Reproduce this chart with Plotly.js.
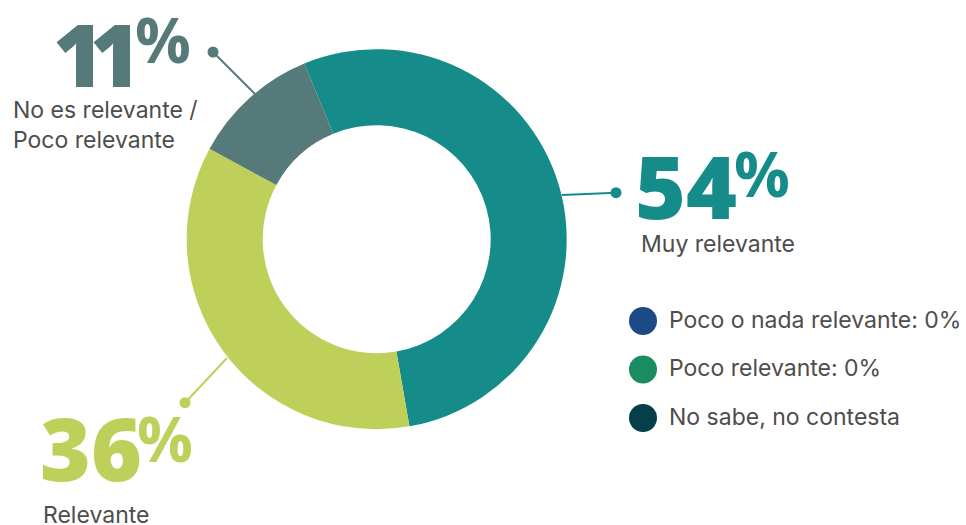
<!DOCTYPE html>
<html>
<head>
<meta charset="utf-8">
<script src="https://cdn.plot.ly/plotly-3.0.1.min.js"></script>
<style>html,body{margin:0;padding:0;background:#fff}#chart{width:966px;height:525px}</style>
</head>
<body>
<div id="chart"></div>
<script>
// ---- data ----
var sliceLabels = ["Muy relevante", "Relevante", "No es relevante / Poco relevante"];
var sliceValues = [54, 36, 11];
var sliceColors = ["#158C8A", "#BED05A", "#56797A"];
var calloutText = ["Muy relevante", "Relevante", "No es relevante /<br>Poco relevante"];

var legendLabels = ["Poco o nada relevante: 0%", "Poco relevante: 0%", "No sabe, no contesta"];
var legendColors = ["#1C4A86", "#1A8C62", "#073E4B"];

// ---- layout helpers (pixel -> paper) ----
var W = 966, H = 525;
function px(x){ return x / W; }
function py(y){ return 1 - y / H; }
var FONT = "Inter, 'Open Sans', sans-serif";
var BIGFONT = "'Open Sans', Inter, sans-serif";
var TXT = "#4D4D4D";

function textAt(text, x, baseline, size, color, weight, fam, desc){
  return {
    text: text, xref: "paper", yref: "paper",
    x: px(x), y: py(baseline + desc * size),
    xanchor: "left", yanchor: "bottom", align: "left",
    showarrow: false, borderpad: 0,
    font: {family: fam, size: size, color: color, weight: weight || 400}
  };
}

// donut geometry
var cx = 376.7, cy = 239.2, R = 190;

// callout placement per slice: [digitsX, digitsBaseline, pctX, pctBaseline, labelX, lastLineBaseline, letterSpacing]
var callPos = [
  [634, 220, 733, 198, 640, 253, 0],
  [39, 482, 136, 463, 42, 524, 0],
  [52, 88, 134, 64, 12, 149, -14]
];
var BIG = 87, PCT = 62, LBL = 23;

var annotations = [];
var shapes = [];
for (var i = 0; i < sliceValues.length; i++) {
  var p = callPos[i];
  var num = String(sliceValues[i]);
  if (p[6]) num = "<span style='letter-spacing:" + p[6] + "px'>" + num + "</span>";
  annotations.push(textAt(num, p[0], p[1], BIG, sliceColors[i], 800, BIGFONT, 0.293));
  annotations.push(textAt("%", p[2], p[3], PCT, sliceColors[i], 700, BIGFONT, 0.293));
  annotations.push(textAt(calloutText[i], p[4], p[5], LBL, TXT, 400, FONT, 0.242));
}

// leader lines with end dots
var leaders = [
  [562, 195, 616, 192.7],
  [227, 358, 185, 402.7],
  [255, 94, 213, 52]
];
for (var j = 0; j < leaders.length; j++) {
  var L = leaders[j];
  shapes.push({type: "line", xref: "paper", yref: "paper",
    x0: px(L[0]), y0: py(L[1]), x1: px(L[2]), y1: py(L[3]),
    line: {color: sliceColors[j], width: 2}});
  var r = 5.5;
  shapes.push({type: "circle", xref: "paper", yref: "paper",
    x0: px(L[2] - r), x1: px(L[2] + r), y0: py(L[3] + r), y1: py(L[3] - r),
    fillcolor: sliceColors[j], line: {width: 0}});
}

// legend
var legY = [321, 369.5, 418];
for (var k = 0; k < legendLabels.length; k++) {
  var rr = 14;
  shapes.push({type: "circle", xref: "paper", yref: "paper",
    x0: px(643 - rr), x1: px(643 + rr), y0: py(legY[k] + rr), y1: py(legY[k] - rr),
    fillcolor: legendColors[k], line: {width: 0}});
  annotations.push(textAt(legendLabels[k], 668, legY[k] + 8, LBL, TXT, 400, FONT, 0.242));
}

var data = [{
  type: "pie",
  labels: sliceLabels,
  values: sliceValues,
  marker: {colors: sliceColors, line: {width: 0}},
  hole: 0.6,
  sort: false,
  direction: "clockwise",
  rotation: -22.4,
  textinfo: "none",
  hoverinfo: "none",
  showlegend: false,
  domain: {x: [px(cx - R), px(cx + R)], y: [py(cy + R), py(cy - R)]}
}];

var layout = {
  width: W, height: H,
  margin: {l: 0, r: 0, t: 0, b: 0},
  paper_bgcolor: "#ffffff",
  plot_bgcolor: "#ffffff",
  showlegend: false,
  annotations: annotations,
  shapes: shapes,
  font: {family: FONT, color: TXT}
};

Plotly.newPlot("chart", data, layout, {displayModeBar: false, staticPlot: true});
</script>
</body>
</html>
